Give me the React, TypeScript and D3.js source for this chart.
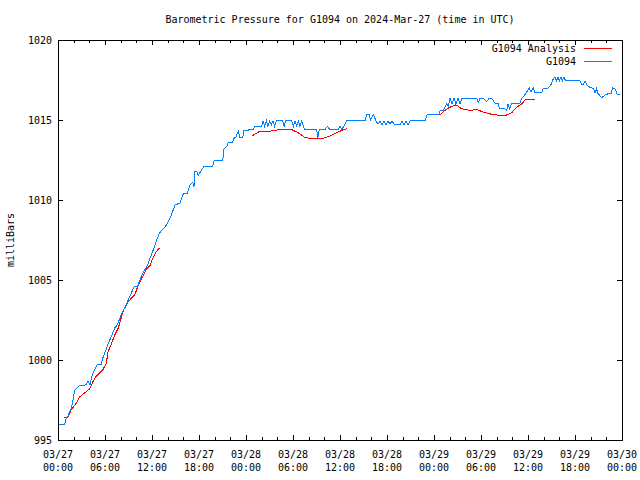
import React from "react";
import * as d3 from "d3";

// Hours since 2024-03-27 00:00 UTC and pressure (mb) for station G1094
const obsHours = [
  0, 0.85, 1.02, 1.28, 1.7, 1.91, 2.13, 2.77, 3.61, 3.83, 4.09, 4.25, 4.47, 5.02, 5.53, 5.66, 6.17, 6.38, 6.8, 7.24,
  7.57, 8.13, 8.55, 9.19, 9.74, 10.12, 10.47, 10.89, 11.32, 11.74, 12.17, 12.6, 12.93, 13.24, 13.66, 14.3, 14.51, 14.94,
  15.57, 16.0, 16.51, 16.85, 17.2, 17.36, 17.49, 17.71, 17.91, 18.22, 18.64, 19.75, 19.95, 21.03, 21.19, 21.54, 21.74,
  22.3, 22.47, 22.72, 23.02, 23.23, 23.58, 23.74, 24.93, 25.15, 26.0, 26.17, 26.38, 26.6, 26.81, 27.02, 27.23, 27.45,
  27.66, 27.87, 28.68, 28.87, 29.06, 29.83, 30.04, 30.25, 30.47, 30.68, 30.89, 31.11, 31.32, 31.53, 33.03, 33.15, 33.36,
  34.09, 34.38, 34.72, 35.78, 36.0, 36.22, 36.42, 36.85, 39.19, 39.4, 39.7, 39.91, 40.24, 40.59, 40.85, 41.11, 41.36,
  41.62, 41.87, 42.13, 42.38, 42.64, 42.89, 43.24, 43.66, 43.91, 44.17, 44.43, 44.68, 44.94, 45.15, 46.85, 47.15, 48.68,
  48.77, 49.19, 49.62, 49.83, 50.04, 50.3, 50.55, 50.81, 51.06, 51.32, 51.57, 53.45, 53.66, 53.87, 54.3, 54.73, 55.02,
  55.36, 55.79, 56.21, 56.34, 57.06, 57.28, 57.45, 57.64, 57.92, 58.98, 59.19, 59.49, 59.83, 60.17, 60.38, 60.68, 60.89,
  61.74, 61.95, 62.59, 62.89, 63.15, 63.45, 63.64, 63.83, 64.02, 64.21, 64.4, 64.6, 64.79, 66.64, 66.85, 67.06, 67.28,
  67.49, 67.7, 68.13, 68.34, 68.55, 68.74, 68.94, 69.41, 69.83, 70.26, 70.6, 70.82, 71.11, 71.4, 71.74,
];
const obsValues = [
  996.0, 996.0, 996.3, 996.5, 997.0, 997.5, 998.1, 998.4, 998.45, 998.7, 998.45, 998.85, 999.2, 999.7, 999.7, 1000.05,
  1000.7, 1001.0, 1001.45, 1002.0, 1002.2, 1002.9, 1003.3, 1004.0, 1004.6, 1004.6, 1005.0, 1005.5, 1005.8, 1006.35,
  1006.9, 1007.5, 1007.9, 1008.1, 1008.3, 1008.85, 1009.1, 1009.7, 1009.8, 1010.4, 1010.4, 1010.95, 1011.1, 1010.85,
  1011.8, 1011.8, 1011.55, 1011.8, 1012.1, 1012.1, 1012.5, 1012.5, 1013.2, 1013.35, 1013.6, 1013.6, 1013.85, 1013.95,
  1014.3, 1013.9, 1013.9, 1014.35, 1014.4, 1014.6, 1014.6, 1014.95, 1014.6, 1014.95, 1014.6, 1014.95, 1014.7, 1014.95,
  1014.6, 1014.95, 1014.95, 1014.6, 1014.95, 1014.95, 1014.6, 1014.95, 1014.65, 1014.95, 1014.6, 1014.95, 1014.6,
  1014.4, 1014.4, 1013.85, 1014.4, 1014.4, 1014.6, 1014.4, 1014.4, 1014.6, 1014.4, 1014.55, 1014.95, 1014.95, 1015.35,
  1015.35, 1015.0, 1015.35, 1014.95, 1014.75, 1014.9, 1014.7, 1014.95, 1014.7, 1014.95, 1014.75, 1014.95, 1014.75,
  1014.7, 1014.7, 1014.95, 1014.7, 1014.95, 1014.7, 1014.95, 1014.95, 1014.95, 1015.35, 1015.35, 1015.6, 1015.6,
  1016.0, 1015.85, 1016.35, 1016.0, 1016.35, 1016.0, 1016.35, 1016.0, 1016.35, 1016.35, 1016.1, 1016.35, 1016.35,
  1016.15, 1016.35, 1016.35, 1016.05, 1016.05, 1015.7, 1015.7, 1015.6, 1016.0, 1015.7, 1016.05, 1016.05, 1016.35,
  1016.5, 1016.75, 1017.0, 1016.75, 1017.0, 1016.7, 1016.7, 1017.0, 1017.0, 1017.15, 1017.5, 1017.7, 1017.45, 1017.7,
  1017.45, 1017.7, 1017.45, 1017.7, 1017.45, 1017.45, 1017.2, 1017.2, 1017.45, 1017.2, 1017.1, 1017.0, 1017.0, 1016.7,
  1016.95, 1016.65, 1016.4, 1016.55, 1016.65, 1016.65, 1017.0, 1016.95, 1016.6, 1016.6,
];

// Analysis series (null = gap)
const anaHours = [
  0.77, 1.28, 1.7, 2.34, 2.77, 3.41, 4.05, 4.47, 4.89, 5.74, 6.17, 6.38, 6.8, 7.24, 7.7, 8.34, 8.97, 9.83, 10.25, 10.69,
  11.32, 11.74, 12.17, 12.6, 12.93, 18.0, 24.73, 25.79, 27.06, 28.34, 29.83, 30.68, 31.53, 32.39, 33.87, 34.72, 35.58,
  36.42, 36.93, 42.0, 48.68, 49.4, 50.04, 50.81, 51.53, 52.6, 53.45, 54.3, 55.4, 56.3, 57.19, 57.92, 58.55, 59.19, 59.62,
  60.04, 60.89,
];
const anaValues: (number | null)[] = [
  996.4, 996.45, 996.9, 997.3, 997.7, 997.95, 998.2, 998.65, 999.0, 999.4, 999.8, 1000.5, 1001.0, 1001.55, 1002.0,
  1003.1, 1003.65, 1004.1, 1004.7, 1005.1, 1005.7, 1005.9, 1006.45, 1006.8, 1007.0, null, 1014.0, 1014.3, 1014.3,
  1014.4, 1014.4, 1014.2, 1013.9, 1013.85, 1013.85, 1014.0, 1014.2, 1014.4, 1014.45, null, 1015.3, 1015.6, 1015.8,
  1015.95, 1015.7, 1015.6, 1015.65, 1015.5, 1015.35, 1015.3, 1015.3, 1015.45, 1015.8, 1016.0, 1016.25, 1016.3, 1016.3,
];

const yTicks = [995, 1000, 1005, 1010, 1015, 1020];
const xMajorHours = [0, 6, 12, 18, 24, 30, 36, 42, 48, 54, 60, 66, 72];
const xTickDates = ["03/27", "03/27", "03/27", "03/27", "03/28", "03/28", "03/28", "03/28", "03/29", "03/29", "03/29", "03/29", "03/30"];
const xTickTimes = ["00:00", "06:00", "12:00", "18:00", "00:00", "06:00", "12:00", "18:00", "00:00", "06:00", "12:00", "18:00", "00:00"];

const title = "Barometric Pressure for G1094 on 2024-Mar-27 (time in UTC)";
const yLabel = "milliBars";
const seriesNames = ["G1094 Analysis", "G1094"];
const seriesColors = ["#ff0000", "#0080ff"];

export default function App() {
  const W = 640, H = 480;
  const L = 58, R = 622, T = 40, B = 440;
  const x = d3.scaleLinear().domain([0, 72]).range([L, R]);
  const y = d3.scaleLinear().domain([995, 1020]).range([B, T]);
  const font = "'DejaVu Sans Mono', 'Liberation Mono', monospace";

  const obs = obsHours.map((h, i) => [h, obsValues[i]] as [number, number]);
  const ana = anaHours.map((h, i) => [h, anaValues[i]] as [number, number | null]);

  const lineObs = d3.line<[number, number]>().x((d) => x(d[0])).y((d) => y(d[1]));
  const lineAna = d3
    .line<[number, number | null]>()
    .defined((d) => d[1] !== null)
    .x((d) => x(d[0]))
    .y((d) => y(d[1] as number));

  const minorHours = d3.range(0, 73, 2).filter((h) => h % 6 !== 0);

  return (
    <svg width={W} height={H} style={{ position: "absolute", left: 0, top: 0, background: "#fff" }}>
      <rect x={0} y={0} width={W} height={H} fill="#fff" />
      <text x={(L + R) / 2} y={23} textAnchor="middle" fontFamily={font} fontSize={10} fill="#000">
        {title}
      </text>
      {/* data */}
      <path d={lineAna(ana) || ""} fill="none" stroke={seriesColors[0]} strokeWidth={1} shapeRendering="crispEdges" />
      <path d={lineObs(obs) || ""} fill="none" stroke={seriesColors[1]} strokeWidth={1} shapeRendering="crispEdges" />
      {/* frame */}
      <rect x={L + 0.5} y={T + 0.5} width={R - L} height={B - T} fill="none" stroke="#000" strokeWidth={1} shapeRendering="crispEdges" />
      {/* y ticks */}
      {yTicks.map((v) => (
        <g key={"y" + v}>
          <line x1={L} x2={L + 5} y1={Math.round(y(v)) + 0.5} y2={Math.round(y(v)) + 0.5} stroke="#000" shapeRendering="crispEdges" />
          <line x1={R - 5} x2={R} y1={Math.round(y(v)) + 0.5} y2={Math.round(y(v)) + 0.5} stroke="#000" shapeRendering="crispEdges" />
          <text x={52} y={y(v) + 3.5} textAnchor="end" fontFamily={font} fontSize={10} fill="#000">
            {v}
          </text>
        </g>
      ))}
      {/* x ticks */}
      {xMajorHours.map((h, i) => (
        <g key={"x" + h}>
          <line x1={Math.round(x(h)) + 0.5} x2={Math.round(x(h)) + 0.5} y1={B - 5} y2={B} stroke="#000" shapeRendering="crispEdges" />
          <line x1={Math.round(x(h)) + 0.5} x2={Math.round(x(h)) + 0.5} y1={T} y2={T + 5} stroke="#000" shapeRendering="crispEdges" />
          <text x={x(h)} y={458} textAnchor="middle" fontFamily={font} fontSize={10} fill="#000">
            {xTickDates[i]}
          </text>
          <text x={x(h)} y={471} textAnchor="middle" fontFamily={font} fontSize={10} fill="#000">
            {xTickTimes[i]}
          </text>
        </g>
      ))}
      {minorHours.map((h) => (
        <g key={"m" + h}>
          <line x1={Math.round(x(h)) + 0.5} x2={Math.round(x(h)) + 0.5} y1={B - 3} y2={B} stroke="#000" shapeRendering="crispEdges" />
          <line x1={Math.round(x(h)) + 0.5} x2={Math.round(x(h)) + 0.5} y1={T} y2={T + 3} stroke="#000" shapeRendering="crispEdges" />
        </g>
      ))}
      {/* y label */}
      <text
        transform={`translate(14, ${(T + B) / 2}) rotate(-90)`}
        textAnchor="middle"
        fontFamily={font}
        fontSize={10}
        fill="#000"
      >
        {yLabel}
      </text>
      {/* legend */}
      {seriesNames.map((n, i) => (
        <g key={n}>
          <text x={576} y={52 + i * 13} textAnchor="end" fontFamily={font} fontSize={10} fill="#000">
            {n}
          </text>
          <line x1={584} x2={612} y1={48.5 + i * 13} y2={48.5 + i * 13} stroke={seriesColors[i]} shapeRendering="crispEdges" />
        </g>
      ))}
    </svg>
  );
}
